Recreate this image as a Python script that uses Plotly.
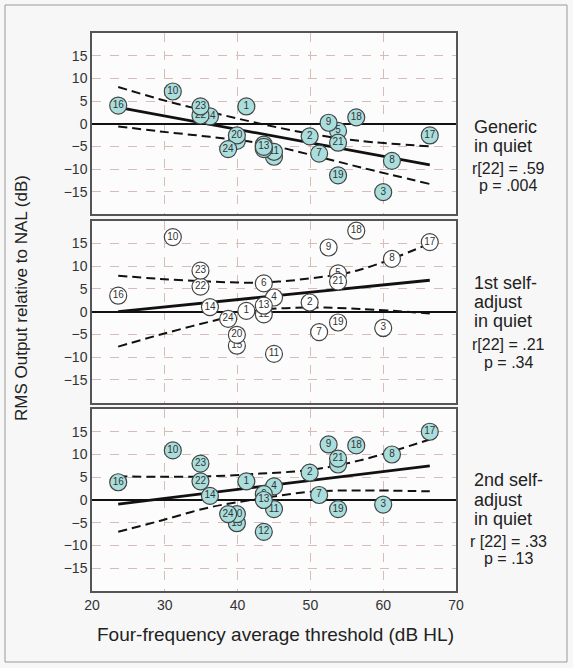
import plotly.graph_objects as go

# ---------------- data ----------------
ids = list(range(1, 25))
threshold = [41.2, 49.9, 60.0, 45.0, 53.8, 43.6, 51.2, 61.2, 52.5, 31.1, 45.0, 43.6,
             43.6, 36.2, 39.9, 23.6, 66.4, 56.3, 53.8, 39.9, 53.8, 34.9, 34.9, 38.7]
generic = [3.8, -2.8, -15.1, -7.3, -1.6, -4.6, -6.6, -8.2, 0.2, 7.1, -6.2, -5.6,
           -5.1, 1.6, -3.8, 4.0, -2.6, 1.4, -11.4, -2.6, -4.2, 1.8, 3.8, -5.6]
self1 = [0.15, 2.0, -3.6, 3.1, 8.4, 6.2, -4.5, 11.6, 14.1, 16.4, -9.3, -0.6,
         1.3, 1.0, -7.5, 3.5, 15.3, 17.8, -2.4, -5.1, 6.6, 5.5, 9.0, -1.6]
self2 = [4.1, 6.0, -1.0, 3.0, 7.8, 1.3, 1.1, 10.0, 12.2, 10.9, -2.0, -7.0,
         0.0, 0.9, -5.1, 3.9, 15.0, 12.0, -2.0, -3.1, 9.1, 4.1, 8.0, -3.1]

reg_x = [23.6, 66.4]
reg_generic = [3.6, -9.1]
reg_self1 = [0.0, 6.9]
reg_self2 = [-0.9, 7.5]

band_x = [23.6, 29.3, 36.2, 43.1, 49.9, 56.8, 66.4]
gen_upper = [8.1, 5.4, 2.6, 0.0, -2.2, -3.8, -5.0]
gen_lower = [-0.6, -1.7, -2.9, -4.3, -6.8, -9.6, -13.3]
s1_upper = [7.9, 7.2, 6.6, 6.4, 7.3, 9.2, 15.0]
s1_lower = [-7.7, -5.1, -2.2, 0.3, 0.9, 0.6, -0.4]
s2_upper = [5.2, 5.1, 5.2, 5.8, 6.6, 8.7, 13.3]
s2_lower = [-7.0, -4.6, -1.6, 0.3, 1.8, 2.1, 1.9]

x_ticks = [20, 30, 40, 50, 60, 70]
y_ticks = [-15, -10, -5, 0, 5, 10, 15]

panel_labels = [["Generic", "in quiet"],
                ["1st self-", "adjust", "in quiet"],
                ["2nd self-", "adjust", "in quiet"]]
panel_stats = [["r[22] = .59", "p = .004"],
               ["r[22] = .21", "p = .34"],
               ["r [22] = .33", "p = .13"]]

# ---------------- layout constants ----------------
W, H = 573, 668
ML, MR, MT, MB = 92, 117, 33, 77
PW, PH = W - ML - MR, H - MT - MB
FONT = "Liberation Sans, Arial, sans-serif"
TEAL = "#a9dedd"
GRID = "#d7bdb6"


def px(xp):
    return (xp - ML) / PW


def py(yp):
    return (H - MB - yp) / PH


domains = [[0.675, 1.0], [0.3378, 0.6636], [0.0, 0.3262]]
panels = [
    (generic, reg_generic, gen_upper, gen_lower, TEAL),
    (self1, reg_self1, s1_upper, s1_lower, "white"),
    (self2, reg_self2, s2_upper, s2_lower, TEAL),
]

fig = go.Figure()

for i, (yvals, reg, up, lo, fill) in enumerate(panels):
    xa = "x" if i == 0 else f"x{i+1}"
    ya = "y" if i == 0 else f"y{i+1}"
    for band in (up, lo):
        fig.add_trace(go.Scatter(x=band_x, y=band, mode="lines", xaxis=xa, yaxis=ya,
                                 line=dict(color="#111", width=2, dash="9px,5px",
                                           shape="spline", smoothing=1.0),
                                 hoverinfo="skip", showlegend=False))
    fig.add_trace(go.Scatter(x=reg_x, y=reg, mode="lines", xaxis=xa, yaxis=ya,
                             line=dict(color="#111", width=2.8),
                             hoverinfo="skip", showlegend=False))
    for k in range(len(ids)):
        fig.add_trace(go.Scatter(
            x=[threshold[k]], y=[yvals[k]], mode="markers+text",
            text=[str(ids[k])], textposition="middle center",
            textfont=dict(family=FONT, size=10, color="#333"),
            marker=dict(size=17, color=fill, line=dict(color="#444", width=1.2)),
            xaxis=xa, yaxis=ya, showlegend=False, hoverinfo="skip"))

axis_common = dict(range=[20, 70], tickvals=x_ticks, showgrid=True, gridcolor=GRID,
                   griddash="dash", gridwidth=1, showline=True, mirror=True,
                   linecolor="#555", linewidth=1.5, zeroline=False, ticks="",
                   tickfont=dict(family=FONT, size=14, color="#333"))
yaxis_common = dict(range=[-20, 20], tickvals=y_ticks, showgrid=True, gridcolor=GRID,
                    griddash="dash", gridwidth=1, showline=True, mirror=True,
                    linecolor="#555", linewidth=1.5, zeroline=True,
                    zerolinecolor="#111", zerolinewidth=1.8, ticks="",
                    tickfont=dict(family=FONT, size=14, color="#333"))

layout = dict(width=W, height=H, margin=dict(l=ML, r=MR, t=MT, b=MB),
              paper_bgcolor="#f7f7f7", plot_bgcolor="#fcfcfc", showlegend=False)
for i in range(3):
    xk = "xaxis" if i == 0 else f"xaxis{i+1}"
    yk = "yaxis" if i == 0 else f"yaxis{i+1}"
    xa = dict(axis_common, anchor="y" if i == 0 else f"y{i+1}", domain=[0, 1],
              showticklabels=(i == 2))
    if i > 0:
        xa["matches"] = "x"
    layout[xk] = xa
    layout[yk] = dict(yaxis_common, anchor="x" if i == 0 else f"x{i+1}", domain=domains[i])
fig.update_layout(**layout)

ann = []
label_rows = [[127, 146], [283, 302, 321], [480, 500, 519]]
stat_rows = [[168, 185], [345, 362], [541, 558]]
for i in range(3):
    for txt, yp in zip(panel_labels[i], label_rows[i]):
        ann.append(dict(text=txt, x=px(472), y=py(yp), xref="paper", yref="paper",
                        xanchor="left", yanchor="middle", showarrow=False,
                        font=dict(family=FONT, size=18, color="#222")))
    for txt, yp in zip(panel_stats[i], stat_rows[i]):
        ann.append(dict(text=txt, x=px(508), y=py(yp), xref="paper", yref="paper",
                        xanchor="center", yanchor="middle", showarrow=False,
                        font=dict(family=FONT, size=16, color="#222")))
ann.append(dict(text="Four-frequency average threshold (dB HL)", x=px(275), y=py(634),
                xref="paper", yref="paper", xanchor="center", yanchor="middle",
                showarrow=False, font=dict(family=FONT, size=19, color="#222")))
ann.append(dict(text="RMS Output relative to NAL (dB)", x=px(21), y=py(298),
                xref="paper", yref="paper", xanchor="center", yanchor="middle",
                textangle=-90, showarrow=False,
                font=dict(family=FONT, size=17, color="#222")))
fig.update_layout(annotations=ann)

fig.add_shape(type="rect", xref="paper", yref="paper",
              x0=px(5), x1=px(567), y0=py(662), y1=py(5),
              line=dict(color="#999", width=1), fillcolor="rgba(0,0,0,0)", layer="below")

fig.write_html("out.html")
